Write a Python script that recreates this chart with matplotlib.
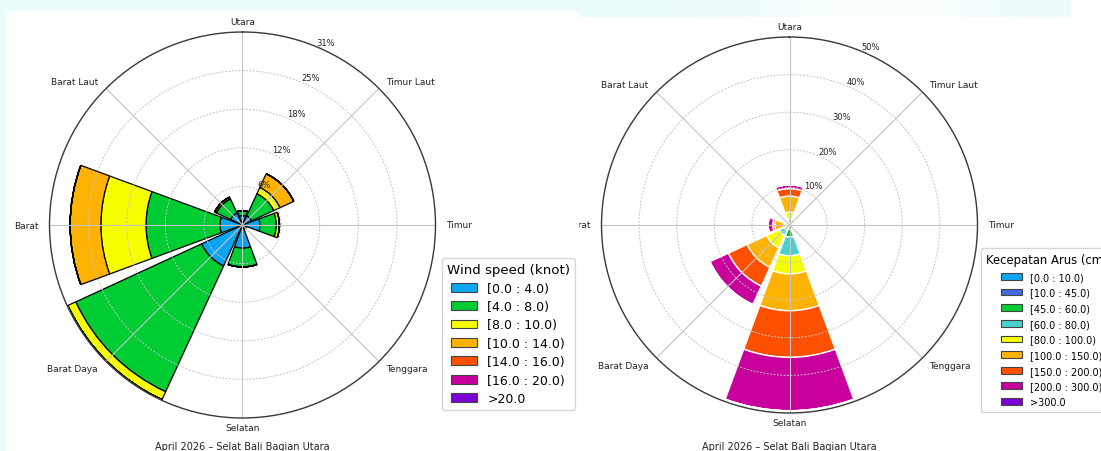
import numpy as np
import matplotlib
matplotlib.use("Agg")
import matplotlib.pyplot as plt
from matplotlib.patches import Patch
from matplotlib.transforms import Bbox, TransformedBbox

W, H = 1101, 452

# arah mata angin (searah jarum jam dari utara)
directions = ["Utara", "Timur Laut", "Timur", "Tenggara",
              "Selatan", "Barat Daya", "Barat", "Barat Laut"]
dir_angles = [0, 45, 90, 135, 180, 225, 270, 315]

# --- angin (% per arah, per kelas kecepatan) ---
wind_bins = ["[0.0 : 4.0)", "[4.0 : 8.0)", "[8.0 : 10.0)", "[10.0 : 14.0)",
             "[14.0 : 16.0)", "[16.0 : 20.0)", ">20.0"]
wind_colors = ["#0ba5f0", "#00cc33", "#f5ff00", "#ffb300",
               "#ff5000", "#c8009c", "#7b00d6"]
wind_0_4 = [1.5, 1.6, 2.8, 0.6, 3.7, 7.2, 3.6, 2.1]
wind_4_8 = [0.8, 3.9, 2.6, 0.0, 3.0, 22.1, 11.8, 2.5]
wind_8_10 = [0.0, 1.1, 0.5, 0.0, 0.0, 1.4, 7.2, 0.0]
wind_10_14 = [0.0, 2.4, 0.0, 0.0, 0.0, 0.0, 4.9, 0.3]
wind_14_16 = [0.0, 0.0, 0.0, 0.0, 0.0, 0.0, 0.0, 0.0]
wind_16_20 = [0.0, 0.0, 0.0, 0.0, 0.0, 0.0, 0.0, 0.0]
wind_20 = [0.0, 0.0, 0.0, 0.0, 0.0, 0.0, 0.0, 0.0]
wind_rticks = [6.16, 12.32, 18.48, 24.64, 30.8]
wind_rlabels = ["6%", "12%", "18%", "25%", "31%"]

# --- arus (% per arah, per kelas kecepatan) ---
cur_bins = ["[0.0 : 10.0)", "[10.0 : 45.0)", "[45.0 : 60.0)", "[60.0 : 80.0)",
            "[80.0 : 100.0)", "[100.0 : 150.0)", "[150.0 : 200.0)",
            "[200.0 : 300.0)", ">300.0"]
cur_colors = ["#0ba5f0", "#4169e1", "#00cc33", "#48d1cc", "#f5ff00",
              "#ffb300", "#ff5000", "#c8009c", "#7b00d6"]
cur_0_10 = [0.0, 0.0, 0.0, 0.0, 0.2, 0.2, 0.0, 0.0]
cur_10_45 = [0.4, 0.0, 0.0, 0.0, 1.0, 0.8, 0.2, 0.0]
cur_45_60 = [0.0, 0.0, 0.0, 0.0, 2.0, 0.6, 0.0, 0.0]
cur_60_80 = [1.1, 0.2, 0.0, 0.0, 5.0, 1.4, 0.4, 0.0]
cur_80_100 = [1.95, 0.6, 0.0, 0.0, 4.8, 3.7, 0.9, 0.0]
cur_100_150 = [4.25, 0.9, 0.0, 0.0, 9.8, 5.7, 2.4, 0.0]
cur_150_200 = [2.0, 0.3, 0.0, 0.0, 12.4, 5.5, 0.55, 0.0]
cur_200_300 = [1.0, 0.1, 0.0, 0.0, 14.2, 5.4, 1.25, 0.0]
cur_300 = [0.0, 0.0, 0.0, 0.0, 0.0, 0.0, 0.0, 0.0]
cur_rticks = [10, 20, 30, 40, 50]
cur_rlabels = ["10%", "20%", "30%", "40%", "50%"]

title_text = "April 2026 – Selat Bali Bagian Utara"

# posisi label arah (px offset, ha)
label_offsets = {
    "Utara": (0, 10.8, "center"), "Timur Laut": (6.8, 7.4, "left"),
    "Timur": (10.2, 0, "left"), "Tenggara": (6.8, -7.1, "left"),
    "Selatan": (0, -9.8, "center"), "Barat Daya": (-8.2, -7.1, "right"),
    "Barat": (-10.8, 0, "right"), "Barat Laut": (-8.2, 7.4, "right"),
}

fig = plt.figure(figsize=(W / 100, H / 100), dpi=100)

# latar halaman (cyan muda + panel putih)
bg = np.empty((H, W, 3))
bg[:] = np.array([234, 251, 252]) / 255
xs = np.arange(W)
glow = 0.75 * np.exp(-((xs - 880) / 130.0) ** 2)
bg[:18, :, :] = bg[:18, :, :] * (1 - glow[None, :, None]) + glow[None, :, None]
bg[12:, 7:579] = 1.0
bg[18:, 579:1071] = 1.0
bg[:, 1071:] = 1.0
ax_bg = fig.add_axes([0, 0, 1, 1])
ax_bg.imshow(bg, aspect="auto", interpolation="nearest")
ax_bg.axis("off")
ax_bg.set_zorder(-1)


def rose(rect, series, colors, rmax, rticks, rlabels, edge, lw):
    ax = fig.add_axes(rect, projection="polar")
    ax.set_theta_zero_location("N")
    ax.set_theta_direction(-1)
    theta = np.deg2rad(dir_angles)
    width = np.deg2rad(45) * 0.9
    bottom = np.zeros(len(dir_angles))
    for vals, c in zip(series, colors):
        vals = np.array(vals)
        ax.bar(theta, vals, width=width, bottom=bottom, color=c,
               edgecolor=edge, linewidth=lw, align="center")
        bottom = bottom + vals
    ax.set_ylim(0, rmax)
    ax.set_thetagrids(dir_angles, labels=[""] * 8)
    ax.set_rgrids(rticks, rlabels, angle=22.5, fontsize=6, color="#222222")
    ax.yaxis.grid(True, color="#c4c4c4", linestyle=(0, (2, 1.5)), linewidth=0.7)
    ax.xaxis.grid(True, color="#c4c4c4", linestyle="-", linewidth=0.8)
    ax.spines["polar"].set_color("#3a3a3a")
    ax.spines["polar"].set_linewidth(1.0)
    texts = {}
    for name, ang in zip(directions, dir_angles):
        dx, dy, ha = label_offsets[name]
        t = ax.annotate(name, xy=(np.deg2rad(ang), rmax),
                        xytext=(dx * 0.72, dy * 0.72), textcoords="offset points",
                        ha=ha, va="center", fontsize=6.5, color="#222222",
                        annotation_clip=False)
        texts[name] = t
    return ax, texts


wind_series = [wind_0_4, wind_4_8, wind_8_10, wind_10_14,
               wind_14_16, wind_16_20, wind_20]
cur_series = [cur_0_10, cur_10_45, cur_45_60, cur_60_80, cur_80_100,
              cur_100_150, cur_150_200, cur_200_300, cur_300]

ax1, _ = rose([49.5 / W, (H - 419) / H, 386 / W, 386 / H], wind_series,
              wind_colors, 30.8, wind_rticks, wind_rlabels, "black", 0.9)
ax2, t2 = rose([601.5 / W, (H - 414) / H, 376 / W, 376 / H], cur_series,
               cur_colors, 50, cur_rticks, cur_rlabels, "white", 1.0)

# gambar kanan menutupi sebagian label "Barat"
clip = TransformedBbox(Bbox([[579 / W, 0], [1, 1]]), fig.transFigure)
t2["Barat"].set_clip_on(True)
t2["Barat"].set_clip_box(clip)

h1 = [Patch(facecolor=c, edgecolor="#444444", linewidth=0.8) for c in wind_colors]
fig.legend(h1, wind_bins, title="Wind speed (knot)", loc="upper left",
           bbox_to_anchor=(441.7 / W, 1 - 259.3 / H), borderaxespad=0,
           fontsize=9.0, title_fontsize=9.6, labelspacing=0.43,
           handlelength=2.1)

h2 = [Patch(facecolor=c, edgecolor="#444444", linewidth=0.8) for c in cur_colors]
fig.legend(h2, cur_bins, title="Kecepatan Arus (cm/s)", loc="upper left",
           bbox_to_anchor=(980.7 / W, 1 - 249.3 / H), borderaxespad=0,
           fontsize=7.0, title_fontsize=8.4, labelspacing=0.58,
           borderpad=0.5, handlelength=2.2)

fig.text(242.5 / W, 1 - 446.7 / H, title_text, ha="center", va="center",
         fontsize=7, color="#222222")
fig.text(789.5 / W, 1 - 446.7 / H, title_text, ha="center", va="center",
         fontsize=7, color="#222222")

fig.savefig("out.png", dpi=100)
